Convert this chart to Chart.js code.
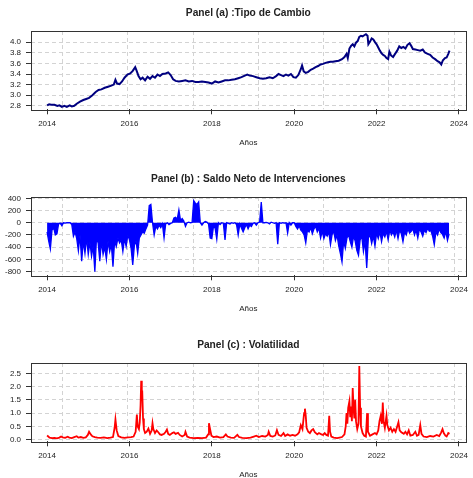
<!DOCTYPE html>
<html>
<head>
<meta charset="utf-8">
<script src="https://cdn.jsdelivr.net/npm/chart.js@4"></script>
<style>
  body { margin: 0; background: #fff; width: 473px; height: 478px; overflow: hidden; position: relative; }
  .panel { position: absolute; left: 0; width: 473px; height: 166px; }
</style>
</head>
<body>
<div class="panel" style="top:0px"><canvas id="panelA" width="473" height="166"></canvas></div>
<div class="panel" style="top:166px"><canvas id="panelB" width="473" height="166"></canvas></div>
<div class="panel" style="top:332px"><canvas id="panelC" width="473" height="166"></canvas></div>
<script>
// ---- datos ----
const ticksX = [2014, 2016, 2018, 2020, 2022, 2024];
const lineasGrid = [2014.37, 2015.96, 2017.55, 2019.13, 2020.71, 2022.30, 2023.88];

// Panel (a) tipo de cambio
const anosA = [
  2014.00, 2014.05, 2014.10, 2014.18, 2014.25, 2014.30, 2014.36, 2014.42, 2014.48, 2014.55,
  2014.60, 2014.66, 2014.72, 2014.80, 2014.88, 2014.95, 2015.02, 2015.10, 2015.18, 2015.25,
  2015.32, 2015.40, 2015.48, 2015.56, 2015.62, 2015.66, 2015.70, 2015.76, 2015.82, 2015.88,
  2015.95, 2016.02, 2016.08, 2016.14, 2016.18, 2016.22, 2016.27, 2016.32, 2016.38, 2016.44,
  2016.50, 2016.56, 2016.62, 2016.68, 2016.74, 2016.80, 2016.88, 2016.94, 2017.00, 2017.06,
  2017.12, 2017.20, 2017.28, 2017.36, 2017.44, 2017.52, 2017.60, 2017.68, 2017.76, 2017.84,
  2017.92, 2018.00, 2018.08, 2018.16, 2018.24, 2018.32, 2018.40, 2018.48, 2018.56, 2018.64,
  2018.72, 2018.80, 2018.86, 2018.92, 2019.00, 2019.08, 2019.16, 2019.24, 2019.32, 2019.40,
  2019.48, 2019.56, 2019.62, 2019.68, 2019.74, 2019.80, 2019.86, 2019.92, 2019.98, 2020.04,
  2020.10, 2020.16, 2020.19, 2020.23, 2020.28, 2020.34, 2020.40, 2020.46, 2020.52, 2020.58,
  2020.64, 2020.70, 2020.76, 2020.82, 2020.88, 2020.94, 2021.00, 2021.08, 2021.16, 2021.22,
  2021.27, 2021.30, 2021.34, 2021.38, 2021.42, 2021.46, 2021.50, 2021.54, 2021.58, 2021.62,
  2021.66, 2021.70, 2021.74, 2021.78, 2021.80, 2021.84, 2021.88, 2021.92, 2021.96, 2022.00,
  2022.04, 2022.08, 2022.12, 2022.16, 2022.20, 2022.24, 2022.28, 2022.31, 2022.35, 2022.40,
  2022.44, 2022.50, 2022.55, 2022.60, 2022.65, 2022.70, 2022.75, 2022.80, 2022.84, 2022.88,
  2022.94, 2023.00, 2023.06, 2023.12, 2023.18, 2023.24, 2023.30, 2023.36, 2023.42, 2023.48,
  2023.53, 2023.57, 2023.61, 2023.66, 2023.70, 2023.74, 2023.77
];
const tipoCambio = [
  2.81, 2.83, 2.82, 2.82, 2.80, 2.81, 2.78, 2.80, 2.78, 2.81,
  2.79, 2.80, 2.84, 2.88, 2.91, 2.93, 2.95, 3.00, 3.06, 3.10,
  3.11, 3.14, 3.16, 3.18, 3.20, 3.29, 3.22, 3.21, 3.26, 3.33,
  3.39, 3.41, 3.46, 3.53, 3.45, 3.36, 3.30, 3.33, 3.28, 3.35,
  3.31, 3.36, 3.33, 3.39, 3.36, 3.40, 3.41, 3.43, 3.38, 3.30,
  3.27, 3.26, 3.27, 3.28, 3.26, 3.27, 3.25, 3.25, 3.26, 3.25,
  3.24, 3.22, 3.26, 3.24, 3.26, 3.28, 3.28, 3.29, 3.30, 3.32,
  3.34, 3.37, 3.39, 3.37, 3.36, 3.34, 3.32, 3.31, 3.32, 3.34,
  3.32, 3.36, 3.40, 3.38, 3.36, 3.39, 3.37, 3.40, 3.34, 3.33,
  3.38, 3.49, 3.56, 3.45, 3.42, 3.44, 3.48, 3.50, 3.53, 3.55,
  3.58, 3.59, 3.61, 3.62, 3.63, 3.63, 3.64, 3.65, 3.68, 3.72,
  3.78, 3.70, 3.88, 3.93, 3.96, 3.92, 3.99, 4.02, 4.10, 4.12,
  4.11, 4.13, 4.15, 4.12, 3.96, 4.01, 4.07, 4.05, 4.00, 3.96,
  3.90, 3.84, 3.79, 3.76, 3.74, 3.70, 3.68, 3.82, 3.75, 3.72,
  3.77, 3.84, 3.92, 3.89, 3.91, 3.88, 3.95, 3.98, 3.93, 3.87,
  3.86, 3.85, 3.84, 3.86, 3.80, 3.78, 3.76, 3.71, 3.68, 3.64,
  3.62, 3.58, 3.66, 3.70, 3.71, 3.78, 3.84
];
const ticksA = [2.8, 3.0, 3.2, 3.4, 3.6, 3.8, 4.0];

// Panel (b) saldo neto de intervenciones (una observacion cada 0.04 anos desde 2014)
const inicioB = 2014.0;
const pasoB = 0.04;
const saldoNeto = [
  -150, -300, -430, -120, -80, -200, -180, -20, -10, -50,
  0, -5, 0, 0, 0, -30, -220, -150, -260, -460,
  -200, -630, -300, -500, -250, -520, -320, -550, -380, -800,
  -250, -330, -630, -300, -520, -400, -600, -300, -470, -350,
  -720, -300, -390, -250, -330, -280, -470, -260, -390, -200,
  -280, -420, -690, -370, -300, -500, -250, -200, -150, -170,
  -100, -40, 280, 300, 0, -200, -60, -100, -40, -80,
  -20, -250, -20, 0, -30, -10, 0, 80, 90, 60,
  210, 40, 70, 30, -60, 0, 10, 0, 5, 360,
  320, 300, 340, 0, -40, 0, 20, 10, -20, -250,
  -260, -60, -90, -270, 0, -30, 0, -10, -280, 0,
  -10, -20, 0, -10, 0, -30, -200, -20, -90, -150,
  -80, -30, -100, -40, -60, -10, 0, -40, 0, 10,
  340, 0, 0, 5, 0, -20, 10, 0, -10, 0,
  -350, 0, -10, 0, -5, 0, -170, 0, -40, 0,
  0, -60, -100, -50, -120, -150, -200, -330, -120, -150,
  -80, -180, -100, -60, -150, -90, -250, -140, -260, -180,
  -220, -150, -360, -190, -140, -290, -200, -380, -500, -640,
  -300, -420, -250, -200, -310, -400, -220, -300, -450, -530,
  -280, -220, -470, -300, -740, -250, -200, -340, -220, -380,
  -170, -260, -150, -310, -170, -230, -140, -280, -120, -200,
  -150, -230, -120, -260, -120, -180, -310, -150, -200, -100,
  -170, -140, -100, -200, -120, -250, -100, -150, -220, -120,
  -160, -90, -140, -130, -220, -360, -150, -200, -100, -160,
  -190, -250, -140, -290, -180
];
const ticksB = [-800, -600, -400, -200, 0, 200, 400];

// Panel (c) volatilidad
const anosC = [
  2014.00, 2014.03, 2014.06, 2014.12, 2014.18, 2014.24, 2014.30, 2014.34, 2014.38, 2014.44,
  2014.50, 2014.54, 2014.60, 2014.66, 2014.72, 2014.76, 2014.82, 2014.88, 2014.94, 2014.99,
  2015.02, 2015.06, 2015.10, 2015.16, 2015.22, 2015.30, 2015.38, 2015.46, 2015.54, 2015.60,
  2015.64, 2015.66, 2015.69, 2015.73, 2015.80, 2015.88, 2015.96, 2016.04, 2016.10, 2016.15,
  2016.18, 2016.20, 2016.23, 2016.25, 2016.27, 2016.285, 2016.30, 2016.31, 2016.33, 2016.35,
  2016.38, 2016.42, 2016.46, 2016.50, 2016.54, 2016.56, 2016.58, 2016.62, 2016.66, 2016.70,
  2016.74, 2016.78, 2016.84, 2016.88, 2016.91, 2016.94, 2016.98, 2017.04, 2017.08, 2017.12,
  2017.18, 2017.22, 2017.28, 2017.34, 2017.36, 2017.40, 2017.46, 2017.56, 2017.66, 2017.76,
  2017.86, 2017.91, 2017.93, 2017.96, 2017.99, 2018.04, 2018.12, 2018.20, 2018.28, 2018.34,
  2018.38, 2018.46, 2018.54, 2018.62, 2018.66, 2018.74, 2018.84, 2018.94, 2019.02, 2019.08,
  2019.14, 2019.22, 2019.30, 2019.36, 2019.38, 2019.42, 2019.48, 2019.54, 2019.58, 2019.62,
  2019.68, 2019.74, 2019.78, 2019.84, 2019.90, 2019.96, 2020.02, 2020.08, 2020.12, 2020.16,
  2020.20, 2020.24, 2020.26, 2020.28, 2020.30, 2020.34, 2020.38, 2020.42, 2020.46, 2020.50,
  2020.56, 2020.60, 2020.66, 2020.70, 2020.74, 2020.78, 2020.82, 2020.85, 2020.87, 2020.90,
  2020.96, 2021.04, 2021.10, 2021.16, 2021.22, 2021.25, 2021.27, 2021.29, 2021.31, 2021.34,
  2021.36, 2021.38, 2021.40, 2021.42, 2021.44, 2021.46, 2021.48, 2021.50, 2021.53, 2021.56,
  2021.58, 2021.60, 2021.62, 2021.66, 2021.70, 2021.74, 2021.77, 2021.79, 2021.84, 2021.90,
  2021.96, 2022.00, 2022.04, 2022.07, 2022.10, 2022.13, 2022.15, 2022.17, 2022.20, 2022.24,
  2022.26, 2022.30, 2022.34, 2022.38, 2022.42, 2022.46, 2022.50, 2022.53, 2022.56, 2022.60,
  2022.66, 2022.70, 2022.74, 2022.78, 2022.82, 2022.88, 2022.94, 2022.98, 2023.02, 2023.06,
  2023.09, 2023.14, 2023.22, 2023.30, 2023.38, 2023.46, 2023.52, 2023.56, 2023.60, 2023.63,
  2023.67, 2023.70, 2023.74, 2023.77
];
const volatilidad = [
  0.16, 0.12, 0.08, 0.06, 0.07, 0.05, 0.08, 0.12, 0.09, 0.07,
  0.11, 0.08, 0.06, 0.10, 0.13, 0.08, 0.10, 0.07, 0.09, 0.18,
  0.30, 0.20, 0.13, 0.10, 0.08, 0.07, 0.09, 0.06, 0.08, 0.10,
  0.45, 0.76, 0.35, 0.14, 0.09, 0.07, 0.09, 0.10, 0.12, 0.30,
  0.95, 0.50, 0.40, 0.65, 1.30, 2.22, 1.60, 1.85, 0.80, 0.40,
  0.25, 0.30, 0.42, 0.22, 0.35, 0.62, 0.40, 0.25, 0.35, 0.28,
  0.20, 0.18, 0.22, 0.30, 0.38, 0.22, 0.18, 0.25, 0.28, 0.22,
  0.26, 0.18, 0.12, 0.18, 0.30, 0.12, 0.08, 0.06, 0.07, 0.06,
  0.08, 0.20, 0.62, 0.38, 0.15, 0.10, 0.12, 0.08, 0.10, 0.20,
  0.12, 0.08, 0.07, 0.18, 0.10, 0.07, 0.06, 0.08, 0.12, 0.15,
  0.10, 0.14, 0.12, 0.18, 0.30, 0.14, 0.12, 0.16, 0.36, 0.18,
  0.14, 0.25, 0.14, 0.20, 0.15, 0.18, 0.15, 0.20, 0.28, 0.55,
  0.40, 1.00, 1.17, 0.90, 0.45, 0.30, 0.25, 0.35, 0.40, 0.28,
  0.20, 0.25, 0.20, 0.18, 0.25, 0.18, 0.15, 0.90, 0.30, 0.12,
  0.08, 0.06, 0.08, 0.10, 0.20, 0.50, 1.00, 0.60, 1.20, 1.45,
  0.85, 1.25, 0.70, 1.95, 1.20, 0.80, 1.50, 0.70, 0.40, 0.60,
  2.78, 1.20, 0.50, 0.25, 0.15, 0.12, 1.00, 0.30, 0.15, 0.20,
  0.25, 0.20, 0.35, 0.70, 0.90, 0.60, 1.40, 0.70, 0.45, 0.90,
  0.55, 0.35, 0.45, 0.30, 0.40, 0.30, 0.50, 0.66, 0.35, 0.28,
  0.22, 0.30, 0.20, 0.35, 0.15, 0.18, 0.30, 0.15, 0.18, 0.55,
  0.22, 0.12, 0.10, 0.14, 0.12, 0.18, 0.14, 0.25, 0.40, 0.25,
  0.15, 0.12, 0.25, 0.22
];
const ticksC = [0.0, 0.5, 1.0, 1.5, 2.0, 2.5];

// ---- estilo comun ----
Chart.defaults.font.family = '"Liberation Sans", Arial, sans-serif';
Chart.defaults.color = '#222';

const xMin = 2013.61;
const xMax = 2024.16;

// caja alrededor del area de grafico (como box() en R)
const marco = {
  id: 'marco',
  afterDraw(chart) {
    const { ctx, chartArea: a } = chart;
    ctx.save();
    ctx.strokeStyle = '#333';
    ctx.lineWidth = 1;
    ctx.strokeRect(Math.round(a.left) + 0.5, Math.round(a.top) + 0.5,
      Math.round(a.right - a.left), Math.round(a.bottom - a.top));
    ctx.restore();
  }
};

function opciones(titulo, yMin, yMax, yTicks, formato) {
  return {
    responsive: false,
    animation: false,
    layout: { padding: { left: 0, right: 2.3, top: 0, bottom: 0 } },
    plugins: {
      legend: { display: false },
      tooltip: { enabled: false },
      title: {
        display: true,
        text: titulo,
        fullSize: false,
        color: '#222',
        font: { size: 10.2, weight: 'bold' },
        padding: { top: 6.6, bottom: 11.9 }
      }
    },
    scales: {
      x: {
        type: 'linear',
        min: xMin,
        max: xMax,
        offset: false,
        afterBuildTicks: s => { s.ticks = ticksX.map(v => ({ value: v })); },
        afterFit: s => { s.height = 56.7; },
        grid: { drawOnChartArea: false, drawTicks: true, tickLength: 5, tickColor: '#333', offset: false },
        border: { display: false },
        ticks: { padding: 5, font: { size: 8 }, color: '#222', maxRotation: 0, autoSkip: false, callback: v => String(v) },
        title: { display: true, text: 'Años', color: '#222', font: { size: 8 }, padding: { top: 0, bottom: 18 } }
      },
      xg: {
        type: 'linear',
        position: 'top',
        min: xMin,
        max: xMax,
        offset: false,
        afterBuildTicks: s => { s.ticks = lineasGrid.map(v => ({ value: v })); },
        afterFit: s => { s.height = 0; },
        grid: { drawTicks: false, color: '#d3d3d3', offset: false },
        border: { display: false, dash: [4, 3] },
        ticks: { display: false }
      },
      y: {
        type: 'linear',
        min: yMin,
        max: yMax,
        afterBuildTicks: s => { s.ticks = yTicks.map(v => ({ value: v })); },
        afterFit: s => { s.width = 31; },
        grid: { color: '#d3d3d3', drawTicks: true, tickLength: 5, tickColor: '#333' },
        border: { display: false, dash: [4, 3] },
        ticks: { padding: 5, font: { size: 8 }, color: '#222', callback: formato }
      }
    }
  };
}

// Panel (a)
new Chart(document.getElementById('panelA'), {
  type: 'line',
  data: {
    datasets: [{
      data: anosA.map((a, i) => ({ x: a, y: tipoCambio[i] })),
      borderColor: '#000080',
      borderWidth: 2,
      pointRadius: 0,
      tension: 0,
      fill: false
    }]
  },
  options: opciones('Panel (a) :Tipo de Cambio', 2.735, 4.215, ticksA, v => v.toFixed(1)),
  plugins: [marco]
});

// Panel (b)
new Chart(document.getElementById('panelB'), {
  type: 'line',
  data: {
    datasets: [{
      data: saldoNeto.map((v, i) => ({ x: inicioB + i * pasoB, y: v })),
      borderColor: '#0000ff',
      backgroundColor: '#0000ff',
      borderWidth: 1.3,
      pointRadius: 0,
      tension: 0,
      fill: 'origin'
    }]
  },
  options: opciones('Panel (b) : Saldo Neto de Intervenciones', -860, 426, ticksB, v => String(v)),
  plugins: [marco]
});

// Panel (c)
new Chart(document.getElementById('panelC'), {
  type: 'line',
  data: {
    datasets: [{
      data: anosC.map((a, i) => ({ x: a, y: volatilidad[i] })),
      borderColor: '#ff0000',
      borderWidth: 1.8,
      pointRadius: 0,
      tension: 0,
      fill: false
    }]
  },
  options: opciones('Panel (c) : Volatilidad', -0.06, 2.90, ticksC, v => v.toFixed(1)),
  plugins: [marco]
});
</script>
</body>
</html>
